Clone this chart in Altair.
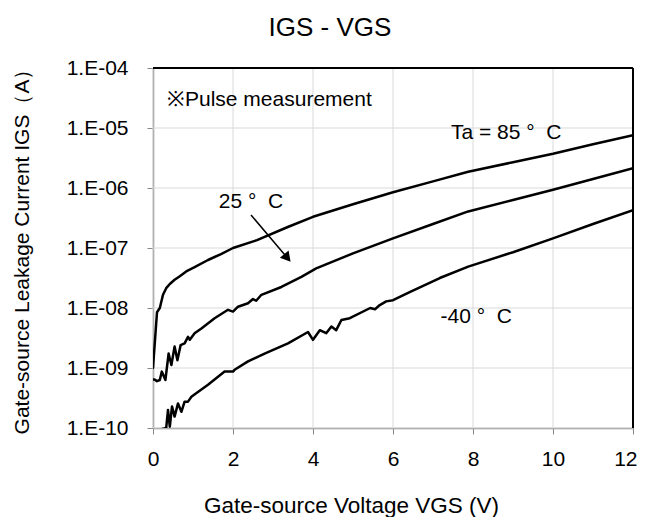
import altair as alt
import pandas as pd

FONT = "Liberation Sans"

# ---- data (VGS in V, IGS in A) ----
v_85 = [0, 0.1, 0.17, 0.25, 0.33, 0.42, 0.54, 0.67, 0.83, 1.04, 1.375, 1.7, 2.0,
        2.6, 3.37, 4.0, 5.0, 6.0, 7.0, 7.88, 9.0, 10.0, 11.0, 12.0]
i_85 = [1.0e-9, 8.5e-9, 1.0e-8, 1.66e-8, 2.14e-8, 2.51e-8, 2.95e-8, 3.39e-8, 4.07e-8,
        4.79e-8, 6.31e-8, 7.94e-8, 1.0e-7, 1.35e-7, 2.24e-7, 3.31e-7, 5.37e-7, 8.51e-7,
        1.29e-6, 1.86e-6, 2.69e-6, 3.72e-6, 5.37e-6, 7.59e-6]

v_25 = [0, 0.04, 0.1, 0.17, 0.22, 0.31, 0.39, 0.46, 0.54, 0.61, 0.69, 0.79, 0.875, 0.92,
        1.04, 1.21, 1.54, 1.875, 2.0, 2.125, 2.375, 2.5, 2.58, 2.71, 3.21, 3.71, 4.08,
        5.0, 6.0, 7.0, 7.88, 9.0, 10.0, 11.0, 12.0]
i_25 = [6.46e-10, 6.46e-10, 6.03e-10, 6.31e-10, 8.71e-10, 6.31e-10, 1.74e-9, 1.12e-9,
        2.29e-9, 1.35e-9, 2.40e-9, 2.57e-9, 3.31e-9, 2.95e-9, 3.80e-9, 4.57e-9, 6.76e-9,
        9.33e-9, 8.71e-9, 1.05e-8, 1.20e-8, 1.41e-8, 1.32e-8, 1.66e-8, 2.24e-8, 3.31e-8,
        4.57e-8, 8.13e-8, 1.45e-7, 2.51e-7, 4.07e-7, 6.31e-7, 9.33e-7, 1.41e-6, 2.14e-6]

v_m40 = [0.15, 0.21, 0.33, 0.375, 0.42, 0.475, 0.54, 0.625, 0.71, 0.79, 0.875, 0.96, 1.08,
         1.375, 1.79, 2.0, 2.04, 2.375, 2.79, 3.375, 3.875, 4.0, 4.17, 4.33, 4.46, 4.58,
         4.71, 4.92, 5.43, 5.55, 5.67, 5.83, 6.0, 6.43, 7.17, 7.88, 9.0, 10.0, 11.0, 12.0]
i_m40 = [5.01e-11, 9.55e-11, 1.0e-10, 2.0e-10, 1.05e-10, 2.29e-10, 1.55e-10, 2.57e-10,
         1.86e-10, 2.75e-10, 2.75e-10, 3.31e-10, 3.80e-10, 5.25e-10, 8.71e-10, 8.71e-10,
         9.33e-10, 1.29e-9, 1.74e-9, 2.57e-9, 3.98e-9, 2.95e-9, 4.27e-9, 3.80e-9, 4.90e-9,
         4.27e-9, 6.31e-9, 6.76e-9, 1.0e-8, 9.55e-9, 1.12e-8, 1.29e-8, 1.35e-8, 1.86e-8,
         3.16e-8, 4.90e-8, 8.51e-8, 1.45e-7, 2.51e-7, 4.27e-7]

x_ticks = [0, 2, 4, 6, 8, 10, 12]
y_ticks = [1e-10, 1e-9, 1e-8, 1e-7, 1e-6, 1e-5, 1e-4]

# annotations (data coordinates)
note_labels = ["※Pulse measurement"]
note_v = [0.35]
note_i = [2.95e-5]
temp_labels = ["Ta = 85\u00a0°\u00a0\u00a0C", "25\u00a0°\u00a0\u00a0C", "-40\u00a0°\u00a0\u00a0C"]
temp_v = [8.83, 2.45, 8.08]
temp_i = [8.32e-6, 5.85e-7, 7.08e-9]
arrow_v = [2.45]
arrow_i = [3.55e-7]
arrow_v2 = [3.36]
arrow_i2 = [6.84e-8]

rows = []
for name, vs, ii in [("85", v_85, i_85), ("25", v_25, i_25), ("-40", v_m40, i_m40)]:
    for v, i in zip(vs, ii):
        rows.append({"series": name, "V": v, "I": i})
df = pd.DataFrame(rows)

xscale = alt.Scale(domain=[0, 12], nice=False, zero=False)
yscale = alt.Scale(type="log", domain=[1e-10, 1e-4], nice=False)

label_expr = ("'1.E-' + (round(-log(datum.value)/LN10) < 10 ? '0' : '') + "
              "round(-log(datum.value)/LN10)")

GRAY = "#898989"
GRID = "#d9d9d9"

x_axis = alt.Axis(values=x_ticks, title="Gate-source Voltage VGS (V)",
                  titleFont=FONT, titleFontSize=22.5, titleFontWeight="normal",
                  titleColor="black", titleX=198, titleY=84, titleAlign="center",
                  titleBaseline="alphabetic",
                  labelFont=FONT, labelFontSize=21, labelColor="black", labelPadding=14,
                  labelFlush=False,
                  labelAlign={"condition": {"test": "datum.value == 12", "value": "right"},
                              "value": "center"},
                  labelOffset={"condition": {"test": "datum.value == 12", "value": 4},
                               "value": 0},
                  tickSize=6, tickColor=GRAY, tickWidth=1,
                  domainColor=GRAY, domainWidth=1.5, grid=False)
y_axis = alt.Axis(values=y_ticks, labelExpr=label_expr,
                  title="Gate-source Leakage Current IGS（A）",
                  titleFont=FONT, titleFontSize=21, titleFontWeight="normal",
                  titleColor="black", titleX=-131, titleY=178, titleAngle=270,
                  titleAlign="center", titleBaseline="middle",
                  labelFont=FONT, labelFontSize=21, labelColor="black", labelPadding=19,
                  tickSize=6, tickColor=GRAY, tickWidth=1,
                  domainColor=GRAY, domainWidth=1.5, grid=False)

# light grid drawn from the tick arrays
grid_x = alt.Chart(pd.DataFrame({"V": x_ticks})).mark_rule(
    stroke=GRID, strokeWidth=1, opacity=1).encode(
    x=alt.X("V:Q", scale=xscale, axis=x_axis),
    y=alt.value(0), y2=alt.value(360))
grid_y = alt.Chart(pd.DataFrame({"I": y_ticks})).mark_rule(
    stroke=GRID, strokeWidth=1, opacity=1).encode(
    y=alt.Y("I:Q", scale=yscale, axis=y_axis),
    x=alt.value(0), x2=alt.value(480))

lines = alt.Chart(df).mark_line(color="black", strokeWidth=2.5, clip=True,
                                strokeJoin="round", strokeCap="round").encode(
    x=alt.X("V:Q"),
    y=alt.Y("I:Q"),
    detail="series:N",
)

top_rule = alt.Chart(pd.DataFrame({"I": [1e-4]})).mark_rule(
    color="black", strokeWidth=2).encode(y=alt.Y("I:Q"))
right_rule = alt.Chart(pd.DataFrame({"V": [12]})).mark_rule(
    color="black", strokeWidth=2).encode(x=alt.X("V:Q"))

note = alt.Chart(pd.DataFrame({"V": note_v, "I": note_i, "label": note_labels})).mark_text(
    font=FONT, fontSize=21, color="black", align="left", baseline="middle").encode(
    x="V:Q", y="I:Q", text="label:N")

temps = alt.Chart(pd.DataFrame({"V": temp_v, "I": temp_i, "label": temp_labels})).mark_text(
    font=FONT, fontSize=21, color="black", align="center", baseline="middle").encode(
    x="V:Q", y="I:Q", text="label:N")

arrow_df = pd.DataFrame({"V": arrow_v, "I": arrow_i, "V2": arrow_v2, "I2": arrow_i2})
arrow_line = alt.Chart(arrow_df).mark_rule(color="black", strokeWidth=1.5).encode(
    x="V:Q", y="I:Q", x2="V2:Q", y2="I2:Q")
arrow_head = alt.Chart(arrow_df).mark_point(
    shape="triangle-up", filled=True, size=130, angle=140, color="black", opacity=1).encode(
    x="V2:Q", y="I2:Q")

chart = alt.layer(grid_x, grid_y, lines, top_rule, right_rule, note, temps,
                  arrow_line, arrow_head).properties(
    width=480, height=360,
    title=alt.TitleParams("IGS - VGS", font=FONT, fontSize=26, fontWeight="normal",
                          color="black", offset=16, anchor="middle", dx=-63),
    autosize=alt.AutoSizeParams(type="none"),
    padding={"left": 145, "top": 60, "right": 4, "bottom": 89},
    background="white",
).configure_view(strokeWidth=0)

chart.save("out.html", embed_options={"renderer": "svg", "actions": False})
